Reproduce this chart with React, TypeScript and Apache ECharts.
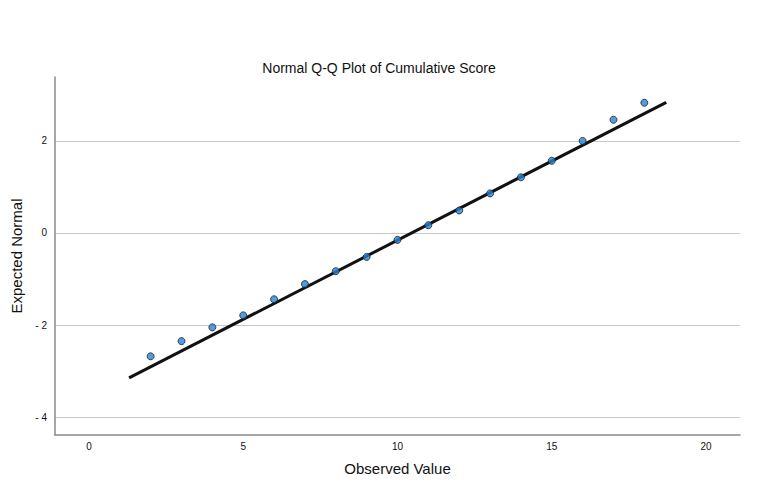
import React, { useEffect, useRef } from "react";
import * as echarts from "echarts";

const observed = [2, 3, 4, 5, 6, 7, 8, 9, 10, 11, 12, 13, 14, 15, 16, 17, 18];
const expected = [-2.68, -2.35, -2.05, -1.79, -1.44, -1.11, -0.83, -0.52, -0.15, 0.17, 0.49, 0.86, 1.21, 1.57, 2.0, 2.46, 2.83];
const lineX = [1.3, 18.71];
const lineY = [-3.15, 2.84];
const xTicks = [0, 5, 10, 15, 20];
const yTicks = [-4, -2, 0, 2];

const FONT = "Liberation Sans, Arial, Helvetica, sans-serif";

export default function App() {
  const ref = useRef<HTMLDivElement>(null);
  useEffect(() => {
    if (!ref.current) return;
    const chart = echarts.init(ref.current, null, { renderer: "svg" });
    chart.setOption({
      animation: false,
      backgroundColor: "#ffffff",
      title: {
        text: "Normal Q-Q Plot of Cumulative Score",
        left: 374,
        textAlign: "center",
        top: 56,
        textStyle: { fontFamily: FONT, fontSize: 14, fontWeight: "normal", color: "#111" },
      },
      grid: { left: 55, right: 28, top: 77, bottom: 57 },
      xAxis: {
        type: "value",
        min: -1.1,
        max: 21.1,
        name: "Observed Value",
        nameLocation: "middle",
        nameGap: 26,
        nameTextStyle: { fontFamily: FONT, fontSize: 15, color: "#111" },
        axisLine: { show: true, onZero: false, lineStyle: { color: "#8a8a8a", width: 1.5 } },
        axisTick: { show: false, customValues: xTicks },
        axisLabel: {
          customValues: xTicks,
          fontFamily: FONT,
          fontSize: 10,
          color: "#111",
          margin: 6,
        },
        splitLine: { show: false },
      },
      yAxis: {
        type: "value",
        min: -4.39,
        max: 3.39,
        name: "Expected Normal",
        nameLocation: "middle",
        nameGap: 29,
        nameRotate: 90,
        nameTextStyle: { fontFamily: FONT, fontSize: 15, color: "#111" },
        axisLine: { show: true, onZero: false, lineStyle: { color: "#8a8a8a", width: 1.5 } },
        axisTick: { show: false, customValues: yTicks },
        axisLabel: {
          customValues: yTicks,
          fontFamily: FONT,
          fontSize: 10,
          color: "#111",
          margin: 8,
          formatter: (v: number) => (v < 0 ? "- " + Math.abs(v) : String(v)),
        },
        splitLine: { show: true, lineStyle: { color: "#c8c8c8", width: 1 } },
      },
      series: [
        {
          type: "line",
          data: lineX.map((x, i) => [x, lineY[i]]),
          showSymbol: false,
          symbol: "none",
          lineStyle: { color: "#111", width: 3 },
          z: 2,
        },
        {
          type: "scatter",
          data: observed.map((x, i) => [x, expected[i]]),
          symbolSize: 7,
          itemStyle: { color: "#2583d9", borderColor: "#15202b", borderWidth: 1 },
          z: 3,
        },
      ],
    });
    return () => chart.dispose();
  }, []);
  return (
    <div
      ref={ref}
      style={{ position: "fixed", left: 0, top: 0, width: 768, height: 492 }}
    />
  );
}
